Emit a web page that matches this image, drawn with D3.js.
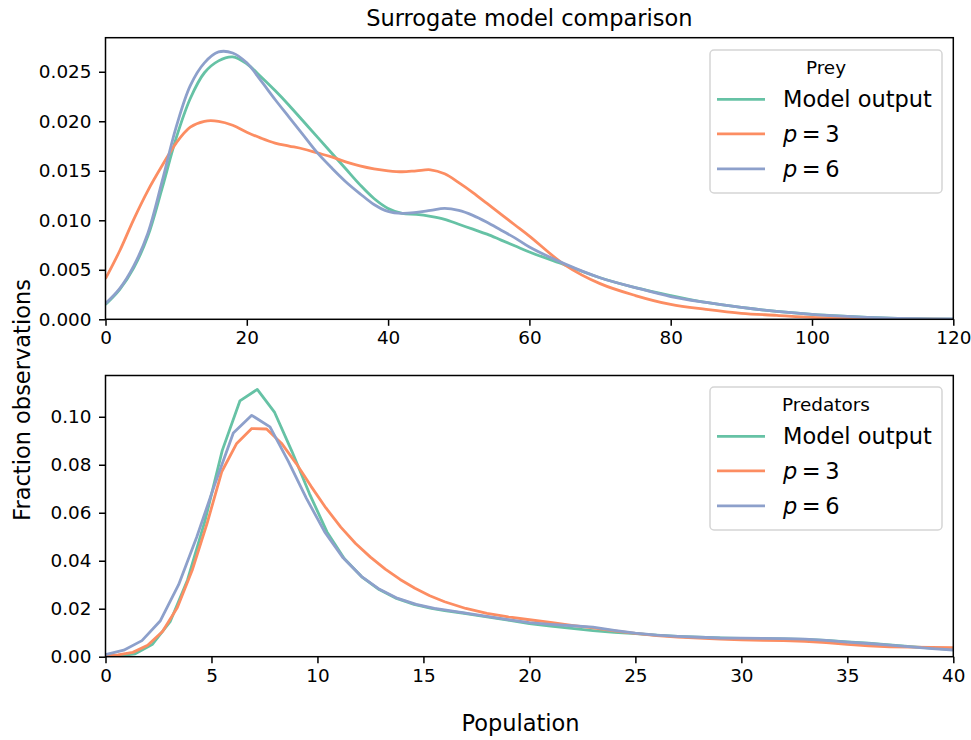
<!DOCTYPE html>
<html>
<head>
<meta charset="utf-8">
<script src="https://cdn.jsdelivr.net/npm/d3@7/dist/d3.min.js"></script>
<style>
  body { margin: 0; background: #fff; }
  svg { font-family: "DejaVu Sans", sans-serif; }
</style>
</head>
<body>
<svg width="971" height="740"></svg>
<script>

// prey panel: shared population grid, smooth density curves
const preyX = [0, 2, 4, 6, 8, 10, 12, 14, 16, 18, 20, 22, 24, 26, 28, 30, 32, 34, 36, 38, 40,
  42, 44, 46, 48, 50, 52, 54, 56, 58, 60, 65, 70, 75, 80, 85, 90, 95, 100, 105, 110, 115, 120];
const preyModel = [0.0015, 0.0030, 0.0052, 0.0084, 0.0132, 0.0183, 0.0223, 0.0249, 0.0261, 0.0265, 0.0258,
  0.0245, 0.0231, 0.0216, 0.0200, 0.0184, 0.0168, 0.0152, 0.0136, 0.0122, 0.0112,
  0.0107, 0.0106, 0.0104, 0.0101, 0.0096, 0.0091, 0.0086, 0.0080, 0.0074, 0.0068,
  0.0055, 0.0042, 0.0032, 0.0024, 0.0017, 0.0012, 0.0008, 0.0005, 0.0003, 0.00014, 0.00006, 0.00002];
const preyP3 = [0.0041, 0.0069, 0.0101, 0.0130, 0.0155, 0.0178, 0.0194, 0.0200, 0.0200, 0.0196, 0.0189,
  0.0183, 0.0178, 0.0175, 0.0172, 0.0168, 0.0164, 0.0159, 0.0155, 0.0152, 0.0150,
  0.0149, 0.0150, 0.0151, 0.0147, 0.0138, 0.0128, 0.0117, 0.0106, 0.0095, 0.0084,
  0.0055, 0.0036, 0.0024, 0.0015, 0.0010, 0.0006, 0.0004, 0.0002, 0.0001, 0.00004, 0.00001, 0];
const preyP6 = [0.0016, 0.0031, 0.0054, 0.0087, 0.0139, 0.0194, 0.0236, 0.0259, 0.0270, 0.0269, 0.0259,
  0.0241, 0.0222, 0.0204, 0.0186, 0.0168, 0.0153, 0.0139, 0.0127, 0.0116, 0.0109,
  0.0107, 0.0108, 0.0110, 0.0112, 0.0110, 0.0105, 0.0098, 0.0090, 0.0082, 0.0073,
  0.0056, 0.0042, 0.0032, 0.0023, 0.0017, 0.0012, 0.0008, 0.0005, 0.0003, 0.00015, 0.00007, 0.00003];

// predator panel: each series was evaluated on its own grid
const predModelX = [0, 0.58, 1.4, 2.22, 3.05, 3.87, 4.69, 5.51, 6.34, 7.16, 7.98, 8.8, 9.62, 10.45, 11.27,
  12.09, 12.91, 13.73, 14.56, 15.38, 16, 17, 18, 19, 20, 21, 22, 23, 24, 25, 26, 27, 28, 29, 30,
  31, 32, 33, 34, 35, 36, 37, 38, 39, 40];
const predModel = [0.0002, 0.0003, 0.0012, 0.0052, 0.0146, 0.0320, 0.0565, 0.0860, 0.1066, 0.1114,
  0.1018, 0.0855, 0.0680, 0.0520, 0.0408, 0.0333, 0.0280, 0.0243, 0.0218, 0.0201,
  0.0192, 0.0180, 0.0166, 0.0152, 0.0138, 0.0128, 0.0118, 0.0109, 0.0101, 0.0096,
  0.0090, 0.0085, 0.0081, 0.0078, 0.0076, 0.0075, 0.0074, 0.0072, 0.0068, 0.0062,
  0.0056, 0.0049, 0.0042, 0.0036, 0.0030];

const predP3X = [0, 0.59, 1.29, 1.99, 2.69, 3.39, 4.09, 4.79, 5.49, 6.19, 6.9, 7.6, 8.3, 9.0, 9.7,
  10.4, 11.1, 11.8, 12.5, 13.2, 13.9, 14.6, 15.3, 16, 17, 18, 19, 20, 21, 22, 23, 24, 25, 26, 27,
  28, 29, 30, 31, 32, 33, 34, 35, 36, 37, 38, 39, 40];
const predP3 = [0.0003, 0.0008, 0.0018, 0.0048, 0.0105, 0.0205, 0.0360, 0.0555, 0.0772, 0.0889,
  0.0951, 0.0949, 0.0890, 0.0805, 0.0710, 0.0620, 0.0540, 0.0472, 0.0415, 0.0365,
  0.0322, 0.0285, 0.0254, 0.0229, 0.0201, 0.0181, 0.0166, 0.0154, 0.0143, 0.0131,
  0.0120, 0.0108, 0.0097, 0.0088, 0.0082, 0.0077, 0.0073, 0.0070, 0.0068, 0.0067,
  0.0064, 0.0059, 0.0051, 0.0045, 0.0041, 0.0040, 0.0039, 0.0038];

const predP6X = [0, 0.86, 1.72, 2.59, 3.45, 4.31, 5.17, 6.03, 6.9, 7.76, 8.62, 9.48, 10.34, 11.21,
  12.07, 12.93, 13.79, 14.66, 15.52, 16, 17, 18, 19, 20, 21, 22, 23, 24, 25, 26, 27, 28, 29, 30,
  31, 32, 33, 34, 35, 36, 37, 38, 39, 40];
const predP6 = [0.0009, 0.0027, 0.0067, 0.0150, 0.0300, 0.0500, 0.0722, 0.0932, 0.1006, 0.0958,
  0.0815, 0.0660, 0.0520, 0.0412, 0.0335, 0.0281, 0.0243, 0.0218, 0.0201,
  0.0195, 0.0182, 0.0168, 0.0155, 0.0142, 0.0135, 0.0129, 0.0123, 0.0110, 0.0098,
  0.0090, 0.0085, 0.0081, 0.0078, 0.0077, 0.0076, 0.0075, 0.0073, 0.0068, 0.0061,
  0.0055, 0.0048, 0.0041, 0.0034, 0.0028];

const seriesNames = ["Model output", "p = 3", "p = 6"];
const seriesColors = ["#66c2a5", "#fc8d62", "#8da0cb"];

const preyXTicks = [0, 20, 40, 60, 80, 100, 120];
const preyYTicks = [0, 0.005, 0.010, 0.015, 0.020, 0.025];
const predXTicks = [0, 5, 10, 15, 20, 25, 30, 35, 40];
const predYTicks = [0, 0.02, 0.04, 0.06, 0.08, 0.10];


let svg = d3.select("svg");
let left = 105.5, right = 953.3;
let tickLen = 6.5;
let bigFont = "22.5px", smallFont = "18.4px";

function drawPanel(p) {
  let x = d3.scaleLinear().domain(p.xDomain).range([left, right]);
  let y = d3.scaleLinear().domain(p.yDomain).range([p.bottom, p.top]);

  let g = svg.append("g");

  g.append("clipPath")
    .attr("id", "clip-" + p.id)
    .append("rect")
    .attr("x", left)
    .attr("y", p.top)
    .attr("width", right - left)
    .attr("height", p.bottom - p.top);

  let line = d3.line()
    .x(d => x(d[0]))
    .y(d => y(Math.max(0, d[1])))
    .curve(p.curve);

  g.append("g")
    .attr("clip-path", `url(#clip-${p.id})`)
    .selectAll("path")
    .data(p.series)
    .enter()
    .append("path")
    .attr("fill", "none")
    .attr("stroke", (d, i) => seriesColors[i])
    .attr("stroke-width", 2.8)
    .attr("stroke-linejoin", "round")
    .attr("d", d => line(d.xs.map((v, i) => [v, d.ys[i]])));

  // axes
  let xAxis = g.append("g")
    .attr("transform", `translate(0,${p.bottom})`)
    .call(d3.axisBottom(x).tickValues(p.xTicks).tickSize(tickLen).tickPadding(5.5).tickFormat(d3.format("d")));
  let yAxis = g.append("g")
    .attr("transform", `translate(${left},0)`)
    .call(d3.axisLeft(y).tickValues(p.yTicks).tickSize(tickLen).tickPadding(7.5).tickFormat(d3.format(p.yFormat)));

  [xAxis, yAxis].forEach(a => {
    a.select(".domain").remove();
    a.selectAll("line").attr("stroke", "#000").attr("stroke-width", 1.5);
    a.selectAll("text")
      .attr("fill", "#000")
      .style("font-size", smallFont)
      .style("font-family", "DejaVu Sans");
  });

  // frame
  g.append("rect")
    .attr("x", left)
    .attr("y", p.top)
    .attr("width", right - left)
    .attr("height", p.bottom - p.top)
    .attr("fill", "none")
    .attr("stroke", "#000")
    .attr("stroke-width", 1.5);

  //------------------------------------------------------------------------------
  // legend

  let lx = 710, lw = 232, lh = 143;
  let legend = g.append("g").attr("transform", `translate(${lx},${p.legendTop})`);

  legend.append("rect")
    .attr("width", lw)
    .attr("height", lh)
    .attr("rx", 4)
    .attr("fill", "rgba(255,255,255,0.8)")
    .attr("stroke", "#d5d5d5")
    .attr("stroke-width", 1.5);

  legend.append("text")
    .attr("x", lw / 2)
    .attr("y", 17.5)
    .attr("dy", "0.35em")
    .attr("text-anchor", "middle")
    .style("font-size", smallFont)
    .text(p.legendTitle);

  let rowY = [49.3, 83.8, 118.8];
  let rows = legend.selectAll(".row")
    .data(seriesNames)
    .enter()
    .append("g")
    .attr("class", "row")
    .attr("transform", (d, i) => `translate(0,${rowY[i]})`);

  rows.append("line")
    .attr("x1", 7)
    .attr("x2", 55)
    .attr("stroke", (d, i) => seriesColors[i])
    .attr("stroke-width", 2.8);

  let labels = rows.append("text")
    .attr("x", 73)
    .attr("dy", "0.35em")
    .style("font-size", bigFont);

  labels.filter(d => !d.startsWith("p ="))
    .text(d => d);

  // math-style label: italic p, tight spacing around "="
  labels.filter(d => d.startsWith("p ="))
    .each(function(d) {
      let t = d3.select(this);
      t.append("tspan").style("font-style", "italic").text("p");
      t.append("tspan").text(d.slice(1).replace(/ /g, "\u2009"));
    });
}

drawPanel({
  id: "prey",
  top: 37.7,
  bottom: 319.3,
  xDomain: [0, 120],
  yDomain: [0, 0.02844],
  xTicks: preyXTicks,
  yTicks: preyYTicks,
  yFormat: ".3f",
  curve: d3.curveCatmullRom.alpha(0.5),
  legendTop: 50,
  legendTitle: "Prey",
  series: [
    { xs: preyX, ys: preyModel },
    { xs: preyX, ys: preyP3 },
    { xs: preyX, ys: preyP6 }
  ]
});

drawPanel({
  id: "pred",
  top: 375.5,
  bottom: 656.7,
  xDomain: [0, 40],
  yDomain: [0, 0.1172],
  xTicks: predXTicks,
  yTicks: predYTicks,
  yFormat: ".2f",
  curve: d3.curveLinear,
  legendTop: 387,
  legendTitle: "Predators",
  series: [
    { xs: predModelX, ys: predModel },
    { xs: predP3X, ys: predP3 },
    { xs: predP6X, ys: predP6 }
  ]
});

//------------------------------------------------------------------------------
// titles

svg.append("text")
  .attr("x", (left + right) / 2)
  .attr("y", 26)
  .attr("text-anchor", "middle")
  .style("font-size", bigFont)
  .text("Surrogate model comparison");

svg.append("text")
  .attr("x", 520.5)
  .attr("y", 731)
  .attr("text-anchor", "middle")
  .style("font-size", bigFont)
  .text("Population");

svg.append("text")
  .attr("transform", "translate(30,400) rotate(-90)")
  .attr("text-anchor", "middle")
  .style("font-size", bigFont)
  .text("Fraction observations");

</script>
</body>
</html>
